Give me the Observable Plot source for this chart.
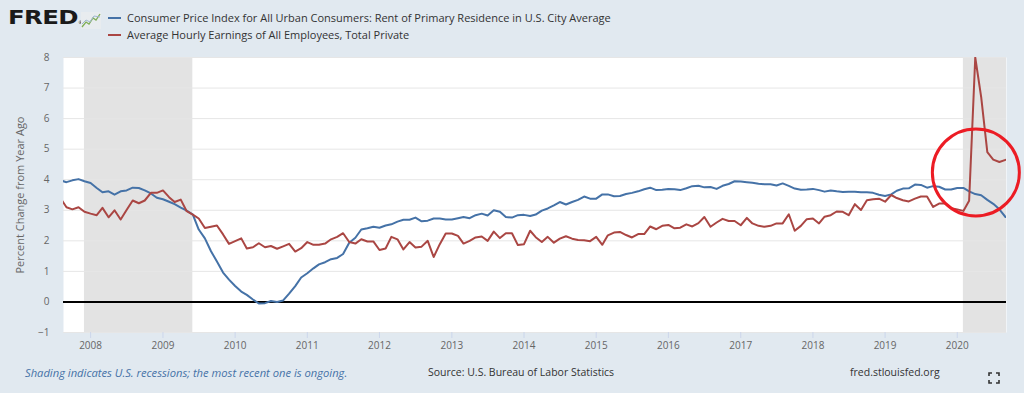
<!DOCTYPE html>
<html><head><meta charset="utf-8">
<script src="https://cdn.jsdelivr.net/npm/d3@7"></script>
<script src="https://cdn.jsdelivr.net/npm/@observablehq/plot@0.6"></script>
<style>
body{margin:0;background:#e1e9f0;font-family:"Open Sans",sans-serif;}
#wrap{position:relative;width:1024px;height:393px;overflow:hidden;background:#e1e9f0;}
#logo{position:absolute;left:8px;top:5px;font:bold 20px "DejaVu Sans",sans-serif;color:#1a1a1a;transform:scaleX(1.22);transform-origin:left top;letter-spacing:-0.5px;}
#logo sup{font-size:5px;font-weight:normal;vertical-align:0;}
#icon{position:absolute;left:81px;top:12px;}
.leg{position:absolute;left:108px;font-size:11px;color:#333;white-space:nowrap;}
.leg span.sw{display:inline-block;width:13px;height:2px;vertical-align:middle;margin-right:6px;position:relative;top:-1px;}
#chart{position:absolute;left:0;top:45px;}
.foot{position:absolute;top:365px;font-size:10.5px;white-space:nowrap;}
</style></head><body>
<div id="wrap">
  <div id="logo">FRED<sup>®</sup></div>
  <svg id="icon" width="20" height="17" viewBox="0 0 20 17">
    <rect x="0" y="0" width="20" height="17" fill="#e8ecef"/>
    <polyline points="1,15 5,10 8,12 12,6 15,8 19,2" fill="none" stroke="#7fae55" stroke-width="1.3"/>
    <polyline points="1,12 5,8 9,10 13,4 19,5" fill="none" stroke="#9fb7cf" stroke-width="1"/>
  </svg>
  <div class="leg" id="leg1" style="top:10px"></div>
  <div class="leg" id="leg2" style="top:27px"></div>
  <div id="chart"></div>
  <div class="foot" style="left:25px;font-style:italic;font-size:11.2px;color:#4572a7;">Shading indicates U.S. recessions; the most recent one is ongoing.</div>
  <div class="foot" style="left:428px;color:#333;">Source: U.S. Bureau of Labor Statistics</div>
  <div class="foot" style="left:850px;color:#333;">fred.stlouisfed.org</div>
  <svg style="position:absolute;left:988px;top:372px" width="12" height="12" viewBox="0 0 12 12">
    <path d="M1,4 V1 H4 M8,1 H11 V4 M11,8 V11 H8 M4,11 H1 V8" fill="none" stroke="#333" stroke-width="1.6"/>
  </svg>
</div>
<script>
// ---- data ----
const seriesNames = [
  "Consumer Price Index for All Urban Consumers: Rent of Primary Residence in U.S. City Average",
  "Average Hourly Earnings of All Employees, Total Private"
];
const seriesColors = ["#4572a7", "#aa4643"];
const firstMonth = "2007-08-01"; // monthly observations, Aug 2007 - Sep 2020
const rentCPI = [
  3.98,3.92,3.98,4.02,3.95,3.89,3.73,3.59,3.62,3.51,3.62,3.65,
  3.74,3.73,3.65,3.55,3.41,3.36,3.28,3.20,3.09,2.99,2.86,2.37,
  2.08,1.66,1.32,0.96,0.73,0.52,0.34,0.23,0.08,-0.05,-0.04,0.03,
  0.00,0.05,0.27,0.52,0.80,0.94,1.10,1.23,1.30,1.40,1.44,1.57,
  1.94,2.10,2.37,2.41,2.46,2.43,2.50,2.54,2.63,2.69,2.69,2.76,
  2.64,2.66,2.73,2.73,2.70,2.70,2.74,2.78,2.74,2.84,2.89,2.83,
  3.00,2.95,2.78,2.76,2.84,2.85,2.81,2.86,2.99,3.06,3.16,3.27,
  3.19,3.27,3.34,3.45,3.38,3.38,3.52,3.52,3.46,3.47,3.53,3.57,
  3.62,3.69,3.74,3.66,3.67,3.70,3.69,3.66,3.72,3.79,3.80,3.75,
  3.76,3.70,3.80,3.86,3.95,3.94,3.92,3.90,3.87,3.85,3.85,3.81,
  3.88,3.80,3.71,3.67,3.68,3.70,3.66,3.61,3.65,3.62,3.60,3.61,
  3.61,3.59,3.59,3.57,3.51,3.47,3.52,3.64,3.71,3.72,3.84,3.83,
  3.74,3.79,3.77,3.68,3.68,3.73,3.73,3.62,3.53,3.49,3.34,3.21,
  3.03,2.78
];
const hourlyEarnings = [
  3.40,3.10,3.03,3.10,2.95,2.89,2.84,3.08,2.77,3.00,2.70,3.01,
  3.32,3.23,3.32,3.57,3.57,3.65,3.43,3.27,3.35,2.97,2.86,2.73,
  2.42,2.46,2.50,2.21,1.90,1.99,2.08,1.75,1.79,1.92,1.79,1.83,
  1.74,1.82,1.90,1.65,1.76,1.96,1.87,1.87,1.91,2.05,2.13,2.25,
  1.96,1.91,2.05,1.98,1.98,1.70,1.75,2.13,2.05,1.72,1.96,1.78,
  1.81,2.00,1.47,1.89,2.24,2.24,2.16,1.91,2.00,2.11,2.14,2.00,
  2.30,2.09,2.25,2.25,1.86,1.89,2.33,2.12,1.96,2.13,1.94,2.07,
  2.15,2.07,2.03,2.02,1.99,2.13,1.87,2.18,2.27,2.29,2.19,2.11,
  2.22,2.22,2.47,2.38,2.49,2.52,2.41,2.43,2.54,2.47,2.58,2.78,
  2.46,2.60,2.72,2.65,2.65,2.51,2.75,2.57,2.49,2.46,2.49,2.57,
  2.57,2.87,2.33,2.49,2.71,2.73,2.57,2.79,2.84,2.96,2.95,2.84,
  3.20,3.01,3.33,3.36,3.38,3.28,3.50,3.40,3.33,3.29,3.38,3.45,
  3.45,3.11,3.22,3.22,3.07,3.03,2.98,3.31,8.00,6.70,4.90,4.66,
  4.58,4.65
];
const recessionStarts = ["2007-12-01", "2020-02-01"];
const recessionEnds = ["2009-06-01", "2020-09-06"];
const yTicks = [-1, 0, 1, 2, 3, 4, 5, 6, 7, 8];
const xTickYears = [2008,2009,2010,2011,2012,2013,2014,2015,2016,2017,2018,2019,2020];
const yLabel = "Percent Change from Year Ago";
const highlight = [{date: "2020-04-04", value: 4.24}];

// ---- build ----
const months = d3.utcMonth.range(new Date(firstMonth), d3.utcMonth.offset(new Date(firstMonth), rentCPI.length));
const rentRows = months.map((d, i) => ({date: d, value: rentCPI[i]}));
const ahRows = months.map((d, i) => ({date: d, value: hourlyEarnings[i]}));
const recessions = recessionStarts.map((s, i) => ({start: new Date(s), end: new Date(recessionEnds[i])}));
const xTicks = xTickYears.map(y => new Date(Date.UTC(y, 0, 1)));
const hl = highlight.map(d => ({date: new Date(d.date), value: d.value}));

document.getElementById("leg1").innerHTML = `<span class="sw" style="background:${seriesColors[0]}"></span>${seriesNames[0]}`;
document.getElementById("leg2").innerHTML = `<span class="sw" style="background:${seriesColors[1]}"></span>${seriesNames[1]}`;

const chart = Plot.plot({
  width: 1024,
  height: 312,
  marginTop: 12,
  marginBottom: 25,
  marginLeft: 63,
  marginRight: 18,
  style: {background: "transparent", fontFamily: "'Open Sans', sans-serif", fontSize: "10px", color: "#666", overflow: "visible"},
  x: {type: "utc", domain: [new Date("2007-08-17"), new Date("2020-09-06")]},
  y: {domain: [-1, 8]},
  marks: [
    Plot.frame({fill: "white", stroke: "none"}),
    Plot.rect(recessions, {x1: "start", x2: "end", fill: "#e3e3e3"}),
    Plot.ruleY(yTicks.filter(d => d !== 0), {stroke: "#e6e6e6", strokeWidth: 1}),
    Plot.ruleY([0], {stroke: "#000", strokeWidth: 2}),
    Plot.axisX({ticks: xTicks, tickFormat: "%Y", tickSize: 6, tickPadding: 3, stroke: "#ccd6eb", fill: "#666", label: null}),
    Plot.axisY({ticks: yTicks, tickSize: 0, tickPadding: 14, fill: "#666", label: null}),
    Plot.text([yLabel], {text: d => d, frameAnchor: "left", textAnchor: "middle", dx: -43, rotate: -90, fontSize: 11, fill: "#666"}),
    Plot.line(rentRows, {x: "date", y: "value", stroke: seriesColors[0], strokeWidth: 2, clip: true}),
    Plot.line(ahRows, {x: "date", y: "value", stroke: seriesColors[1], strokeWidth: 2, clip: true}),
    Plot.dot(hl, {x: "date", y: "value", r: 43.5, stroke: "#ec1c24", strokeWidth: 3, fill: "none"})
  ]
});
document.getElementById("chart").appendChild(chart);
</script>
</body></html>
